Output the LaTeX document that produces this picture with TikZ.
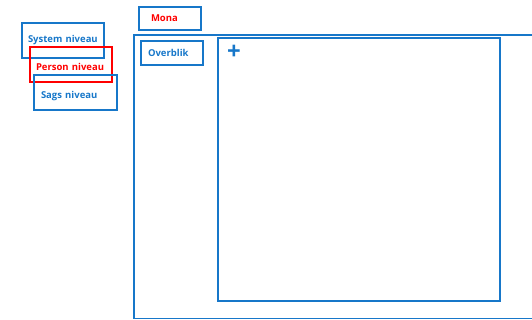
\documentclass[tikz,border=0pt]{standalone}
\usepackage{fontspec}
\setmainfont{Open Sans}
\definecolor{paneblue}{HTML}{1777C9}
\tikzset{
    panel/.style={draw=paneblue, line width=2pt, inner ysep=0pt, inner xsep=6pt,
        align=left, text=paneblue, font=\bfseries\fontsize{9.5}{10}\selectfont},
    redpanel/.style={panel, draw=red, text=red}
}
\begin{document}
\begin{tikzpicture}[x=1pt, y=-1pt]
        \useasboundingbox (0,0) rectangle (532,320);
        \draw[paneblue, line width=1.5pt] (134,35) rectangle (545,318.5);
        \draw[paneblue, line width=2pt] (218,38) rectangle (500,300.5);
        \node[panel, text width=70pt, minimum height=35pt] (system) at (63,40.5) {System niveau};
        \node[redpanel, text width=70pt, minimum height=35pt, text height=13pt] (person) at (71,64.5) {Person niveau};
        \node[panel, text width=69pt, minimum height=35pt, inner xsep=7pt, text height=14pt] (sags) at (75.5,92.5) {Sags niveau};
        \node[panel, text=red, text width=38pt, minimum height=23pt, inner xsep=12pt] (mona) at (170,18.5) {Mona};
        \node[panel, text width=48pt, minimum height=24pt, inner xsep=7pt] (overblik) at (172,53) {Overblik};
        \node[text=paneblue, font=\bfseries\fontsize{24}{24}\selectfont, inner sep=0pt] (plus) at (234,52) {+};
    \end{tikzpicture}
\end{document}
